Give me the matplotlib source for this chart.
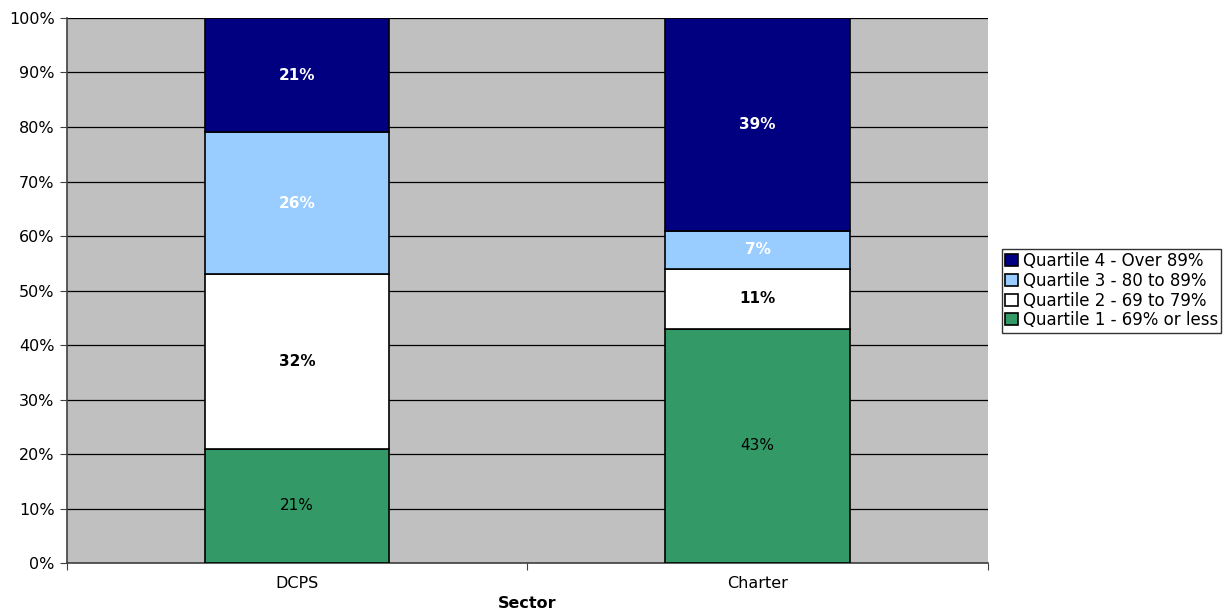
import numpy as np
from matplotlib import pyplot as plt

plt.rcParams['font.family'] = ['DejaVu Sans']

sectors = ["DCPS", "Charter"]
quartiles = ["Quartile 1 - 69% or less", "Quartile 2 - 69 to 79%",
             "Quartile 3 - 80 to 89%", "Quartile 4 - Over 89%"]
q1 = [21, 43]
q2 = [32, 11]
q3 = [26, 7]
q4 = [21, 39]
colors = ["#339966", "#FFFFFF", "#99CCFF", "#000080"]
label_colors = ["black", "black", "white", "white"]
label_weights = ["normal", "bold", "bold", "bold"]

fig = plt.figure(figsize=(12.3, 6.12), dpi=100)
ax = fig.add_axes([0.0545, 0.080, 0.7485, 0.8906])
ax.set_facecolor("#C0C0C0")

x = np.arange(len(sectors))
bottom = np.zeros(len(sectors))
handles = []
for vals, c, lc, lw, name in zip([q1, q2, q3, q4], colors, label_colors, label_weights, quartiles):
    vals = np.array(vals, dtype=float)
    rects = ax.bar(x, vals, 0.4, bottom=bottom, color=c, edgecolor="black",
                   linewidth=1.2, label=name, zorder=3)
    ax.bar_label(rects, labels=["%d%%" % v for v in vals], label_type="center",
                 color=lc, fontweight=lw, fontsize=11)
    handles.append(rects)
    bottom += vals

ax.set_xlim(-0.5, 1.5)
ax.set_ylim(0, 100)
ax.set_yticks(np.arange(0, 101, 10))
ax.set_yticklabels(["%d%%" % v for v in range(0, 101, 10)], fontsize=11.5)
ax.yaxis.grid(True, color="black", linewidth=0.9, zorder=1)
ax.set_axisbelow(True)
ax.set_xticks([-0.5, 0.5, 1.5], minor=False)
ax.set_xticklabels([])
ax.set_xticks(x, minor=True)
ax.set_xticklabels(sectors, minor=True, fontsize=11.5)
ax.tick_params(axis="x", which="minor", length=0, pad=9)
ax.tick_params(axis="x", which="major", length=5, color="#404040")
ax.tick_params(axis="y", length=5, color="#404040", pad=4)
ax.set_xlabel("Sector", fontweight="bold", fontsize=11.5, labelpad=4)
for s in ["top", "right"]:
    ax.spines[s].set_visible(False)
for s in ["left", "bottom"]:
    ax.spines[s].set_color("#404040")
    ax.spines[s].set_linewidth(1.2)

leg = fig.legend(handles[::-1], quartiles[::-1], loc="center left",
                 bbox_to_anchor=(0.8145, 0.525), frameon=True, fancybox=False,
                 edgecolor="black", fontsize=12, handlelength=0.75,
                 handleheight=0.75, handletextpad=0.3, borderpad=0.2,
                 labelspacing=0.1, borderaxespad=0)
leg.get_frame().set_linewidth(1.0)

fig.savefig("out.png", dpi=100)
